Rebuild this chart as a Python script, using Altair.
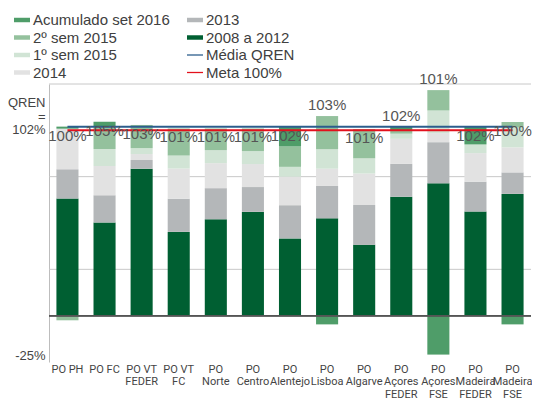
import altair as alt
import pandas as pd

# ---- data ----
categories = ["PO PH", "PO FC", "PO VT|FEDER", "PO VT|FC", "PO|Norte", "PO|Centro",
              "PO|Alentejo", "PO|Lisboa", "PO|Algarve", "PO|Açores|FEDER",
              "PO|Açores|FSE", "PO|Madeira|FEDER", "PO|Madeira|FSE"]

v_2008_2012 = [63.2, 50.3, 79.3, 45.2, 52.0, 56.0, 41.7, 52.5, 38.2, 64.2, 71.4, 56.2, 65.7]
v_2013 = [15.8, 14.7, 4.7, 17.9, 16.8, 13.4, 17.9, 17.5, 21.5, 17.7, 22.2, 16.1, 11.6]
v_2014 = [21.9, 15.8, 3.2, 16.3, 13.5, 12.4, 15.4, 9.3, 17.0, 13.5, 4.9, 15.4, 13.5]
v_1sem2015 = [0.0, 9.1, 3.2, 7.0, 7.0, 7.0, 5.3, 10.5, 8.2, 2.8, 12.2, 4.7, 10.7]
v_2sem2015 = [-2.5, 12.1, 12.5, 14.6, 11.7, 12.2, 11.0, 17.9, 15.8, 1.6, 11.0, 0.0, 3.0]
v_acumulado = [1.1, 2.6, 0.0, 0.0, 0.0, 0.0, 10.7, -4.7, 0.0, 2.0, -21.0, 9.6, -4.7]

total_labels = [100, 105, 103, 101, 101, 101, 102, 103, 101, 102, 101, 102, 100]
labels_above = ["PO|Lisboa", "PO|Açores|FEDER", "PO|Açores|FSE"]

media_qren = 102
meta = 100
axis_min = -25
grid_values = [25, 75, 125]

series_names = ["2008 a 2012", "2013", "2014", "1º sem 2015", "2º sem 2015", "Acumulado set 2016"]
series_values = [v_2008_2012, v_2013, v_2014, v_1sem2015, v_2sem2015, v_acumulado]

# legend is filled column by column
legend_order = ["Acumulado set 2016", "2º sem 2015", "1º sem 2015", "2014",
                "2013", "2008 a 2012", "Média QREN", "Meta 100%"]
legend_colors = ["#4f9d69", "#94c19d", "#d1e4d5", "#e2e2e2",
                 "#b4b7b9", "#005f32", "#2b5d8c", "#e3101c"]
RECT = "M-1,-0.28H1V0.28H-1Z"
LINE = "M-1,-0.08H1V0.08H-1Z"
legend_shapes = [RECT, RECT, RECT, RECT, RECT, RECT, LINE, LINE]
color_of = dict(zip(legend_order, legend_colors))

# ---- tables ----
rows = []
for rank, (name, vals) in enumerate(zip(series_names, series_values)):
    for cat, v in zip(categories, vals):
        if v != 0:
            rows.append({"category": cat, "series": name, "value": v, "rank": rank})
bars_df = pd.DataFrame(rows)

pos_top = bars_df[bars_df.value > 0].groupby("category")["value"].sum()
labels_df = pd.DataFrame({
    "category": categories,
    "label": [f"{t}%" for t in total_labels],
    "top": [pos_top[c] for c in categories],
})

lines_df = pd.DataFrame(
    [{"category": c, "series": "Média QREN", "value": media_qren} for c in categories]
    + [{"category": c, "series": "Meta 100%", "value": meta} for c in categories]
)
grid_df = pd.DataFrame({"value": grid_values})

color_scale = alt.Scale(domain=legend_order, range=legend_colors)
shape_scale = alt.Scale(domain=legend_order, range=legend_shapes)

x_enc = alt.X("category:N", sort=categories,
              scale=alt.Scale(paddingInner=0.405, paddingOuter=0.2),
              axis=alt.Axis(title=None, domain=False, ticks=False, labelAngle=0,
                            labelExpr="split(datum.label, '|')",
                            labelFont="Roboto", labelFontSize=11,
                            labelColor="#444444", labelLineHeight=12.5,
                            labelPadding=1, labelBaseline="top", labelOverlap=False))
y_scale = alt.Scale(domain=[axis_min, grid_values[-1]], nice=False)
y_axis = alt.Axis(title=None, values=[axis_min, media_qren], grid=False, ticks=False,
                  domainColor="#bdbdbd",
                  labelExpr=f"datum.value == {media_qren} ? ['QREN', '=', '{media_qren}%'] : datum.value + '%'",
                  labelFont="Liberation Sans", labelFontSize=13, labelColor="#444444",
                  labelBaseline="bottom", labelLineHeight=13.5, labelPadding=4,
                  labelOffset={"condition": {"test": f"datum.value == {media_qren}", "value": -17}, "value": 0})

grid = alt.Chart(grid_df).mark_rule(color="#c8c8c8", strokeWidth=1).encode(
    y=alt.Y("value:Q", scale=y_scale, axis=y_axis)
)

bars = alt.Chart(bars_df).mark_bar().encode(
    x=x_enc,
    y=alt.Y("value:Q", stack="zero", scale=y_scale),
    color=alt.Color("series:N", scale=color_scale, title=None),
    order=alt.Order("rank:Q"),
)

zero = alt.Chart(grid_df).mark_rule(color="#555555", strokeWidth=1.5).encode(
    y=alt.datum(0)
)

line_media = alt.Chart(lines_df).transform_filter(
    alt.datum.series == "Média QREN"
).mark_line(strokeWidth=2, color=color_of["Média QREN"]).encode(
    x=alt.X("category:N", sort=categories),
    y=alt.Y("value:Q", scale=y_scale),
)
line_meta = alt.Chart(lines_df).transform_filter(
    alt.datum.series == "Meta 100%"
).mark_line(strokeWidth=2, color=color_of["Meta 100%"]).encode(
    x=alt.X("category:N", sort=categories),
    y=alt.Y("value:Q", scale=y_scale),
)

text_in = alt.Chart(labels_df).transform_filter(
    {"not": alt.FieldOneOfPredicate(field="category", oneOf=labels_above)}
).mark_text(font="Liberation Sans", fontSize=15, color="#555555", baseline="middle", dy=9).encode(
    x=alt.X("category:N", sort=categories), y=alt.Y("top:Q", scale=y_scale), text="label:N"
)
text_above = alt.Chart(labels_df).transform_filter(
    alt.FieldOneOfPredicate(field="category", oneOf=labels_above)
).mark_text(font="Liberation Sans", fontSize=15, color="#555555", baseline="middle", dy=-11).encode(
    x=alt.X("category:N", sort=categories), y=alt.Y("top:Q", scale=y_scale), text="label:N"
)

legend_pts = alt.Chart(bars_df).transform_filter("false").mark_point(filled=True, opacity=1).encode(
    x=alt.X("category:N", sort=categories),
    y=alt.Y("value:Q", scale=y_scale),
    color=alt.Color("series:N", scale=color_scale, title=None),
    shape=alt.Shape("series:N", scale=shape_scale, title=None),
)

chart = alt.layer(grid, bars, zero, line_media, line_meta, text_in, text_above, legend_pts).properties(
    width=482, height=278,
    autosize=alt.AutoSizeParams(type="none"),
    padding={"left": 41, "top": 76, "right": 1, "bottom": 39},
).configure_view(stroke=None).configure_legend(
    orient="none", legendX=-35, legendY=-72, columns=2,
    labelFont="Liberation Sans", labelFontSize=15, labelColor="#404040",
    symbolSize=256, symbolStrokeWidth=0, symbolOpacity=1,
    rowPadding=1.5, columnPadding=17, labelOffset=3, padding=0
)

chart.save("out.html", embed_options={"renderer": "svg", "actions": False})
